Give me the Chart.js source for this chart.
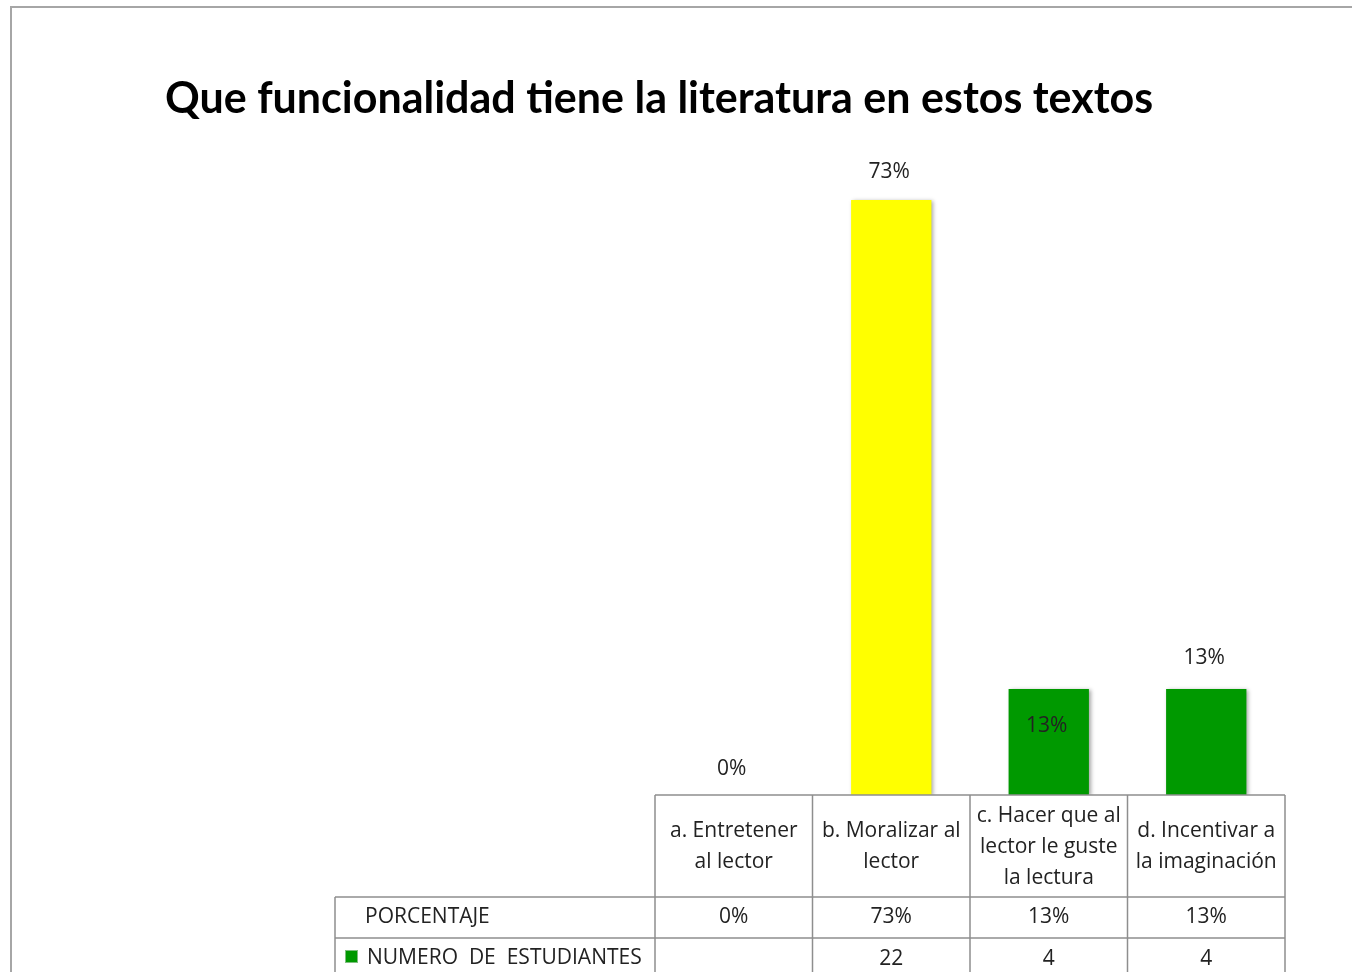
<!DOCTYPE html>
<html>
<head>
<meta charset="utf-8">
<script src="https://cdn.jsdelivr.net/npm/chart.js@4/dist/chart.umd.min.js"></script>
<style>
  html, body { margin: 0; padding: 0; background: #fff; overflow: hidden; }
  #wrap { width: 1352px; height: 972px; position: relative; }
</style>
</head>
<body>
<div id="wrap"><canvas id="chart" width="1352" height="972"></canvas></div>
<script>
// data
const categories = [
    ['a. Entretener', 'al lector'],
    ['b. Moralizar al', 'lector'],
    ['c. Hacer que al', 'lector le guste', 'la lectura'],
    ['d. Incentivar a', 'la imaginación']
];
const percentages = [0, 73, 13, 13];
const percentLabels = ['0%', '73%', '13%', '13%'];
const students = ['', '22', '4', '4'];
const rowNames = ['PORCENTAJE', 'NUMERO  DE  ESTUDIANTES'];
const barColors = ['#FFFF00', '#FFFF00', '#009900', '#009900'];
const titleText = 'Que funcionalidad tiene la literatura en estos textos';

const FONT = '"Open Sans", Lato, sans-serif';
const TITLE_FONT = 'Lato, "Open Sans", sans-serif';
const LINE = '#8e8e8e';
// label offset from the bar top (c is drawn inside its bar, as in the original)
const labelOffsets = [-26, -28, 37, -31];

// frame + title
const framePlugin = {
    id: 'frame',
    beforeDraw(chart) {
        const ctx = chart.ctx;
        ctx.save();
        ctx.fillStyle = '#fff';
        ctx.fillRect(0, 0, chart.width, chart.height);
        ctx.strokeStyle = '#a6a6a6';
        ctx.lineWidth = 2;
        ctx.strokeRect(11, 7, 1400, 1000);
        ctx.fillStyle = '#000';
        ctx.font = 'bold 43px ' + TITLE_FONT;
        ctx.textBaseline = 'alphabetic';
        ctx.textAlign = 'left';
        ctx.fillText(titleText, 165, 113);
        ctx.restore();
    }
};

// soft shadow on bars
const shadowPlugin = {
    id: 'barShadow',
    beforeDatasetsDraw(chart) {
        const ctx = chart.ctx;
        ctx.save();
        ctx.shadowColor = 'rgba(0,0,0,0.35)';
        ctx.shadowBlur = 4;
        ctx.shadowOffsetX = 2;
        ctx.shadowOffsetY = 1;
    },
    afterDatasetsDraw(chart) {
        chart.ctx.restore();
    }
};

const labelPlugin = {
    id: 'valueLabels',
    afterDatasetsDraw(chart) {
        const ctx = chart.ctx;
        const meta = chart.getDatasetMeta(0);
        ctx.save();
        ctx.font = '21px ' + FONT;
        ctx.fillStyle = '#222';
        ctx.textAlign = 'center';
        ctx.textBaseline = 'middle';
        meta.data.forEach((bar, i) => {
            ctx.fillText(percentLabels[i], bar.x - 2, bar.y + labelOffsets[i]);
        });
        ctx.restore();
    }
};

// data table under the plot
const tablePlugin = {
    id: 'dataTable',
    afterDraw(chart) {
        const ctx = chart.ctx;
        const x = chart.scales.x;
        const area = chart.chartArea;
        const colW = area.width / categories.length;
        const top = area.bottom;
        const headBottom = top + 102;
        const row1Bottom = headBottom + 41;
        const tableLeft = 335;
        const bottom = 1000;

        ctx.save();
        ctx.strokeStyle = LINE;
        ctx.lineWidth = 1.5;
        ctx.beginPath();
        ctx.moveTo(area.left, top); ctx.lineTo(area.right, top);
        for (let i = 0; i <= categories.length; i++) {
            const cx = area.left + i * colW;
            ctx.moveTo(cx, top); ctx.lineTo(cx, bottom);
        }
        ctx.moveTo(tableLeft, headBottom); ctx.lineTo(area.right, headBottom);
        ctx.moveTo(tableLeft, row1Bottom); ctx.lineTo(area.right, row1Bottom);
        ctx.moveTo(tableLeft, headBottom); ctx.lineTo(tableLeft, bottom);
        ctx.stroke();

        ctx.fillStyle = '#222';
        ctx.font = '21px ' + FONT;
        ctx.textBaseline = 'middle';
        ctx.textAlign = 'center';
        categories.forEach((lines, i) => {
            const cx = x.getPixelForValue(i);
            const lh = 31;
            const startY = top + 52 - (lines.length - 1) * lh / 2;
            lines.forEach((t, j) => ctx.fillText(t, cx, startY + j * lh, colW - 6));
            ctx.fillText(percentLabels[i], cx, (headBottom + row1Bottom) / 2);
            ctx.fillText(students[i], cx, row1Bottom + 21);
        });

        ctx.textAlign = 'left';
        ctx.fillText(rowNames[0], 365, (headBottom + row1Bottom) / 2);
        ctx.fillText(rowNames[1], 367, row1Bottom + 20, 278);
        // legend key
        ctx.fillStyle = '#009900';
        ctx.fillRect(346, row1Bottom + 13, 11, 11);
        ctx.strokeStyle = '#7fbf7f';
        ctx.lineWidth = 1;
        ctx.strokeRect(345.5, row1Bottom + 12.5, 12, 12);
        ctx.restore();
    }
};

const ctx = document.getElementById('chart').getContext('2d');
new Chart(ctx, {
    type: 'bar',
    data: {
        labels: categories,
        datasets: [{
            label: rowNames[1],
            data: percentages,
            backgroundColor: barColors,
            borderWidth: 0,
            barPercentage: 0.51,
            categoryPercentage: 1
        }]
    },
    options: {
        responsive: false,
        animation: false,
        layout: {
            padding: { left: 655, right: 67, top: 143, bottom: 177 }
        },
        scales: {
            x: { display: false },
            y: { display: false, min: 0, max: 80 }
        },
        plugins: {
            legend: { display: false },
            title: { display: false },
            tooltip: { enabled: false }
        }
    },
    plugins: [framePlugin, shadowPlugin, labelPlugin, tablePlugin]
});
</script>
</body>
</html>
